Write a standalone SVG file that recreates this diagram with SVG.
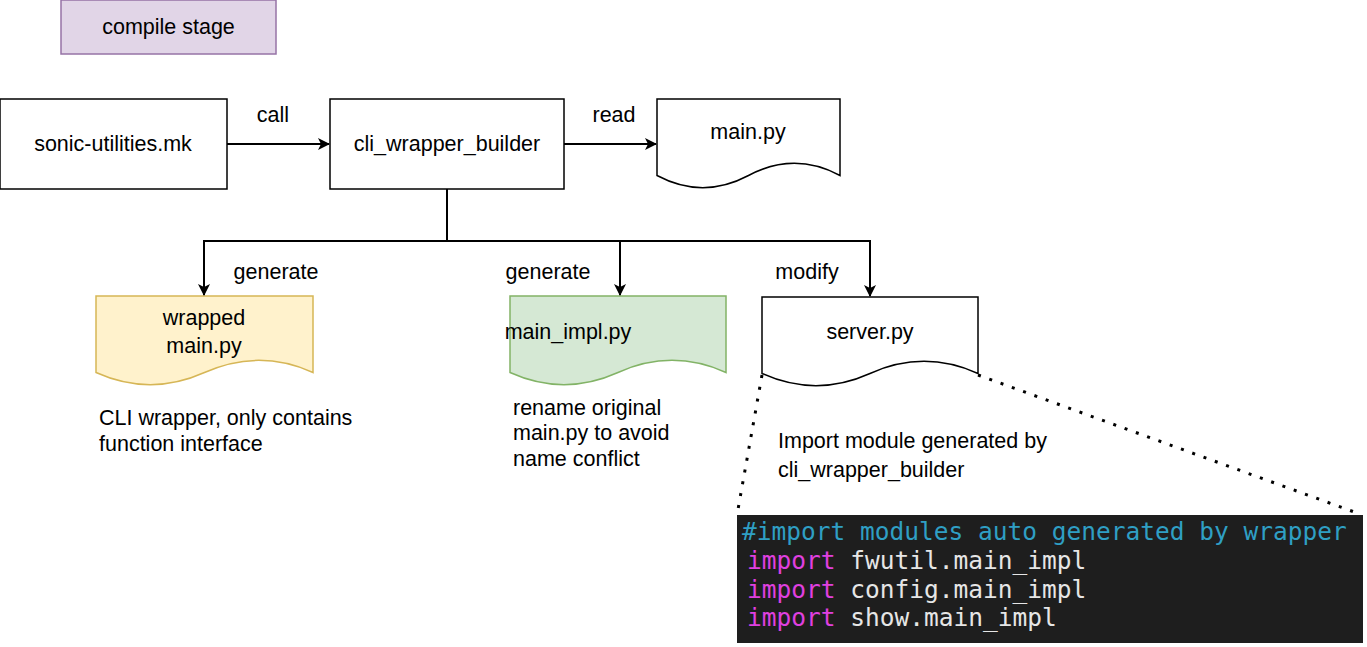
<svg xmlns="http://www.w3.org/2000/svg" width="1367" height="647" viewBox="0 0 1367 647">
<defs>
<style>
.box{fill:#ffffff;stroke:#000000;stroke-width:1.5}
.t{font-family:"Liberation Sans",Arial,sans-serif;font-size:21.5px;fill:#000000}
.c{text-anchor:middle}
.edge{fill:none;stroke:#000000;stroke-width:2}
.dot{fill:none;stroke:#000000;stroke-width:3;stroke-dasharray:3 9;stroke-linecap:butt}
.code{font-family:"DejaVu Sans Mono",monospace;font-size:24.5px;fill:#e6e6e6}
.kw{fill:#e040e0}
.cm{fill:#2f9fc4}
</style>
<marker id="arr" viewBox="0 0 12 12" refX="11" refY="6" markerWidth="12" markerHeight="12" markerUnits="userSpaceOnUse" orient="auto">
<path d="M0,0 L12,6 L0,12 L3,6 Z" fill="#000000"/>
</marker>
</defs>
<rect width="1367" height="647" fill="#ffffff"/>

<g id="compile-stage">
<rect x="61" y="0" width="215" height="54" fill="#e1d5e7" stroke="#9673a6" stroke-width="1.5"/>
<text class="t c" x="168.5" y="34">compile stage</text>
</g>

<g id="sonic-utilities">
<rect class="box" x="0" y="99" width="227" height="90"/>
<text class="t c" x="113" y="151">sonic-utilities.mk</text>
</g>

<g id="cli-wrapper-builder">
<rect class="box" x="330" y="99" width="234" height="90"/>
<text class="t c" x="447" y="151">cli_wrapper_builder</text>
</g>

<g id="main-py">
<path class="box" d="M657,99 H840 V175.5 Q794.25,151.2 748.5,175.5 Q702.75,199.8 657,175.5 Z"/>
<text class="t c" x="748" y="139">main.py</text>
</g>

<g id="wrapped-main-py">
<path d="M96,296 H313 V372.5 Q258.75,348.2 204.5,372.5 Q150.25,396.8 96,372.5 Z" fill="#fff2cc" stroke="#d6b656" stroke-width="1.5"/>
<text class="t c" x="204" y="325">wrapped</text>
<text class="t c" x="204" y="353">main.py</text>
</g>

<g id="main-impl-py">
<path d="M510,296 H726 V372.5 Q672,348.2 618,372.5 Q564,396.8 510,372.5 Z" fill="#d5e8d4" stroke="#82b366" stroke-width="1.5"/>
<text class="t c" x="568" y="339">main_impl.py</text>
</g>

<g id="server-py">
<path class="box" d="M762,297 H978 V373.5 Q924,349.2 870,373.5 Q816,397.8 762,373.5 Z"/>
<text class="t c" x="870" y="339">server.py</text>
</g>

<g id="notes">
<text class="t" x="99" y="425">CLI wrapper, only contains</text>
<text class="t" x="99" y="451">function interface</text>
<text class="t" x="513" y="415">rename original</text>
<text class="t" x="513" y="440">main.py to avoid</text>
<text class="t" x="513" y="466">name conflict</text>
<text class="t" x="778" y="448">Import module generated by</text>
<text class="t" x="778" y="477">cli_wrapper_builder</text>
</g>

<g id="code-snippet">
<rect x="737" y="515" width="626" height="128" fill="#1e1e1e"/>
<text class="code cm" x="742" y="540">#import modules auto generated by wrapper</text>
<text class="code" x="747" y="569"><tspan class="kw">import</tspan> fwutil.main_impl</text>
<text class="code" x="747" y="598"><tspan class="kw">import</tspan> config.main_impl</text>
<text class="code" x="747" y="626"><tspan class="kw">import</tspan> show.main_impl</text>
</g>

<g id="connectors">
<path class="edge" d="M227,144 H329" marker-end="url(#arr)"/>
<path class="edge" d="M564,144 H656" marker-end="url(#arr)"/>
<path class="edge" d="M447,189 V241"/>
<path class="edge" d="M447,241 H204 V295" marker-end="url(#arr)"/>
<path class="edge" d="M447,241 H620 V295" marker-end="url(#arr)"/>
<path class="edge" d="M620,241 H870 V296" marker-end="url(#arr)"/>
<path class="dot" d="M762,375 L737,515"/>
<path class="dot" d="M978,375 L1357,513"/>
<text class="t c" x="273" y="122">call</text>
<text class="t c" x="614" y="122">read</text>
<text class="t c" x="276" y="279">generate</text>
<text class="t c" x="548" y="279">generate</text>
<text class="t c" x="807" y="279">modify</text>
</g>
</svg>
